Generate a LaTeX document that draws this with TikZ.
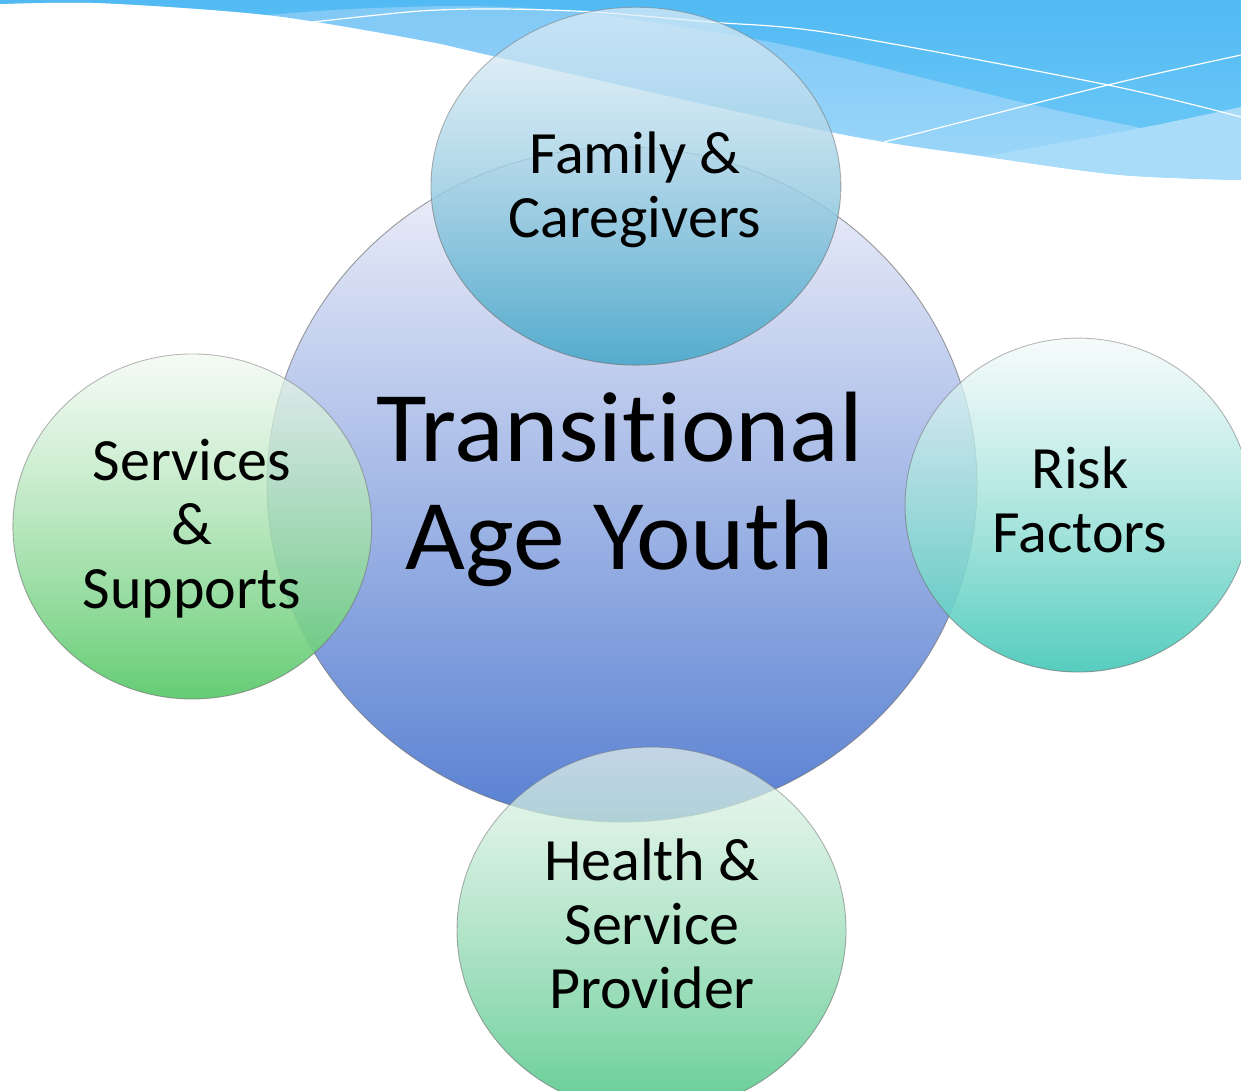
\documentclass[tikz,border=0pt]{standalone}
\usepackage{fontspec}
\usetikzlibrary{fadings}
\setmainfont{Carlito}[Ligatures=NoCommon]
\newfontfamily\bigfont{Carlito}[Ligatures=NoCommon, WordSpace=1.2, FakeStretch=1.035]

\definecolor{wavedark}{RGB}{82,186,243}
\definecolor{wavedarklow}{RGB}{108,200,247}
\definecolor{wavemid}{RGB}{128,200,246}
\definecolor{wavemidlow}{RGB}{158,216,249}
\definecolor{wavelight}{RGB}{168,220,249}
\definecolor{youthtop}{RGB}{243,243,251}
\definecolor{youthmid}{RGB}{198,209,240}
\definecolor{youthlow}{RGB}{88,128,210}
\definecolor{familytop}{RGB}{228,239,248}
\definecolor{familymid}{RGB}{185,220,236}
\definecolor{familylow}{RGB}{79,170,204}
\definecolor{servicestop}{RGB}{241,248,241}
\definecolor{servicesmid}{RGB}{194,236,198}
\definecolor{serviceslow}{RGB}{92,202,108}
\definecolor{risktop}{RGB}{242,249,249}
\definecolor{riskmid}{RGB}{188,234,228}
\definecolor{risklow}{RGB}{76,202,187}
\definecolor{healthtop}{RGB}{234,245,237}
\definecolor{healthmid}{RGB}{194,234,208}
\definecolor{healthlow}{RGB}{92,202,144}

\tikzfading[name=bubblefade, top color=transparent!30, bottom color=transparent!5]

\begin{document}
\begin{tikzpicture}[x=1pt, y=-1pt,
		bubble/.style={draw=black!55, draw opacity=0.7, line width=0.9pt, path fading=bubblefade},
		smalltext/.style={align=center, inner sep=0pt, font=\fontsize{60}{64}\selectfont},
		bigtext/.style={align=center, inner sep=0pt, font=\bigfont\fontsize{100}{108}\selectfont}]
			\useasboundingbox (0,0) rectangle (1241,1090);
			\clip (0,0) rectangle (1241,1090);
			% wave at the top
			\begin{scope}
				\clip (0,0) -- plot[smooth] coordinates {(0,4) (100,3) (267,15) (420,40) (497,57) (830,132) (988,157) (1121,175) (1241,180)} -- (1241,0) -- cycle;
				\shade [top color=wavemid, bottom color=wavemidlow] (0,0) rectangle (1241,190);
				\shade [top color=wavedark, bottom color=wavedarklow] (0,0) -- (0,20) -- plot[smooth] coordinates {(267,15) (350,9) (470,6) (590,13) (743,37) (830,55) (1034,105) (1141,128) (1241,152)} -- (1241,0) -- cycle;
				\fill [wavelight] plot[smooth] coordinates {(930,166) (981,157) (1141,128) (1241,107)} -- (1241,200) -- (930,200) -- cycle;
			\end{scope}
			\draw [white, line width=1.2pt] plot[smooth] coordinates {(313,22) (420,11) (500,9) (593,12) (710,22) (830,33) (1108,85) (1241,117)};
			\draw [white, line width=1.2pt] plot[smooth] coordinates {(884,142) (1108,85) (1241,55)};
			% centre
			\shade [draw=black!55, draw opacity=0.7, line width=0.9pt, top color=youthtop, middle color=youthmid, bottom color=youthlow] (622,484.5) ellipse [x radius=355, y radius=337.5];
			\node [bigtext] (youth) at (620,489) {Transitional\\Age Youth};
			% satellites
			\shade [bubble, top color=familytop, middle color=familymid, bottom color=familylow] (636,186) ellipse [x radius=205, y radius=179];
			\node [smalltext] (family) at (635,190) {Family \&\\Caregivers};
			\shade [bubble, top color=servicestop, middle color=servicesmid, bottom color=serviceslow] (192.5,526.5) ellipse [x radius=179.5, y radius=172.5];
			\node [smalltext] (services) at (192,529) {Services\\\&\\Supports};
			\shade [bubble, top color=risktop, middle color=riskmid, bottom color=risklow] (1078,505) ellipse [x radius=173, y radius=167];
			\node [smalltext] (risk) at (1080,500) {Risk\\Factors};
			\shade [bubble, top color=healthtop, middle color=healthmid, bottom color=healthlow] (651.5,930) ellipse [x radius=194.5, y radius=183];
			\node [smalltext] (health) at (652,924) {Health \&\\Service\\Provider};
		\end{tikzpicture}
\end{document}
